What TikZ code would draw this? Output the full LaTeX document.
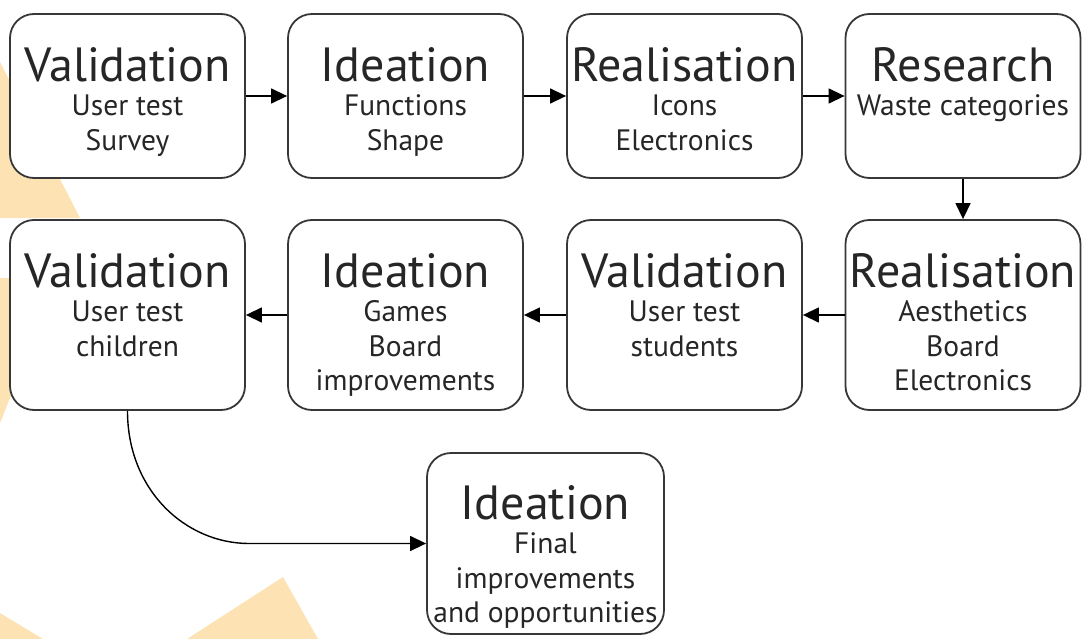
\documentclass[tikz,border=0pt]{standalone}
\usepackage{fontspec}
\setmainfont{PT Sans}
\usetikzlibrary{arrows.meta,calc}
\definecolor{bgorange}{RGB}{253,226,180}
\definecolor{boxline}{RGB}{55,55,55}
\newcommand\ttlfont{\fontsize{48}{34}\selectfont}
\newcommand\subfont{\fontsize{29.5}{34.5}\selectfont}
\begin{document}
\begin{tikzpicture}[x=1pt,y=-1pt,
  box/.style={draw=boxline,line width=1.8pt,fill=white,rounded corners=24pt,minimum width=235pt,inner sep=0pt},
  lbl/.style={anchor=base,inner sep=0pt,align=center,font=\subfont,text=black!85},
  arr/.style={draw=black,line width=1.4pt,-{Triangle[length=16pt,width=15pt]}},
  bg/.style={fill=bgorange,draw=none}]
\useasboundingbox (0,0) rectangle (1086,639);
% background shapes
\fill[bg] (0,62) -- (80,218) -- (0,218) -- cycle;
\fill[bg] (0,278) -- (50,278) -- (50,298) -- (0,423) -- cycle;
\fill[bg] (0,613) -- (43,639) -- (0,639) -- cycle;
\fill[bg] (187,639) -- (283,577) -- (318,639) -- cycle;
% boxes
\node[box,minimum height=164pt] (b1) at (127.5,96) {};
\node[box,minimum height=164pt] (b2) at (405.5,96) {};
\node[box,minimum height=164pt] (b3) at (684.5,96) {};
\node[box,minimum height=164pt] (b4) at (963,96) {};
\node[box,minimum height=190pt] (b5) at (127.5,315) {};
\node[box,minimum height=190pt] (b6) at (405.5,315) {};
\node[box,minimum height=190pt] (b7) at (684.5,315) {};
\node[box,minimum height=190pt] (b8) at (963,315) {};
\node[box,minimum height=181pt,minimum width=237pt] (b9) at (545.5,543.5) {};
% labels (base anchor = baseline of the last line)
\node[lbl] (l1) at ($(b1.north)+(0,137)$) {{\ttlfont Validation}\\User test\\Survey};
\node[lbl] (l2) at ($(b2.north)+(0,137)$) {{\ttlfont Ideation}\\Functions\\Shape};
\node[lbl] (l3) at ($(b3.north)+(0,137)$) {{\ttlfont Realisation}\\Icons\\Electronics};
\node[lbl] (l4) at ($(b4.north)+(0,102.5)$) {{\ttlfont Research}\\Waste categories};
\node[lbl] (l5) at ($(b5.north)+(0,137)$) {{\ttlfont Validation}\\User test\\children};
\node[lbl] (l6) at ($(b6.north)+(0,171.5)$) {{\ttlfont Ideation}\\Games\\Board\\improvements};
\node[lbl] (l7) at ($(b7.north)+(0,137)$) {{\ttlfont Validation}\\User test\\students};
\node[lbl] (l8) at ($(b8.north)+(0,171.5)$) {{\ttlfont Realisation}\\Aesthetics\\Board\\Electronics};
\node[lbl] (l9) at ($(b9.north)+(0,170.5)$) {{\ttlfont Ideation}\\Final\\improvements\\and opportunities};
% connectors
\draw[arr] (b1.east) -- (b2.west);
\draw[arr] (b2.east) -- (b3.west);
\draw[arr] (b3.east) -- (b4.west);
\draw[arr] (b4.south) -- (b8.north);
\draw[arr] (b8.west) -- (b7.east);
\draw[arr] (b7.west) -- (b6.east);
\draw[arr] (b6.west) -- (b5.east);
\draw[arr] (b5.south) .. controls ($(b5.south)+(0,80)$) and ($(b9.west)+(-240,0)$) .. ($(b9.west)+(-177,0)$) -- (b9.west);
\end{tikzpicture}
\end{document}
